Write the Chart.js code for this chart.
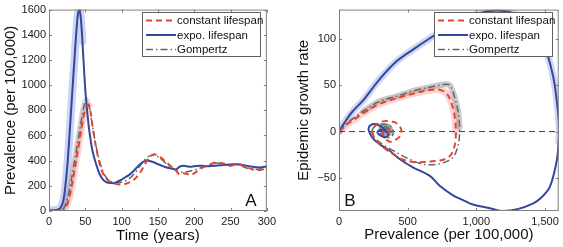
<!DOCTYPE html>
<html>
<head>
<meta charset="utf-8">
<script src="https://cdn.jsdelivr.net/npm/chart.js@4.4.0/dist/chart.umd.min.js"></script>
<style>
  html, body { margin: 0; padding: 0; background: #fff; }
  #wrap { position: relative; width: 563px; height: 247px; overflow: hidden; }
  #cA { position: absolute; left: 0; top: 0; }
  #cB { position: absolute; left: 280px; top: 0; }
</style>
</head>
<body>
<div id="wrap">
  <canvas id="cA" width="280" height="247"></canvas>
  <canvas id="cB" width="283" height="247"></canvas>
</div>
<script>
// ==================== DATOS PANEL A: prevalencia vs tiempo ====================
const years = [0, 10, 15, 18, 20, 22, 25, 28, 30, 32, 35, 38, 40, 42, 44, 46, 48, 50, 52, 55, 58, 60, 65, 70, 75, 80, 85, 90, 95, 100,
  105, 110, 115, 120, 125, 130, 135, 140, 145, 150, 155, 160, 165, 170, 175, 180, 185, 190, 195, 200, 205, 210, 220, 230, 240, 250, 260, 270, 280, 290, 300];
const expoA = [5, 8, 20, 50, 90, 170, 340, 580, 760, 940, 1200, 1450, 1570, 1600, 1520, 1350, 1150, 960, 830, 660, 540, 475, 370, 290, 245, 226, 222, 222, 235, 250,
  268, 285, 310, 340, 370, 392, 402, 395, 385, 372, 360, 350, 342, 335, 330, 352, 360, 355, 352, 356, 358, 360, 356, 360, 366, 370, 372, 362, 352, 346, 356];
const constA = [0, 0, 0, 2, 5, 15, 50, 110, 160, 220, 320, 420, 490, 560, 630, 700, 760, 805, 830, 840, 760, 670, 500, 370, 290, 250, 228, 218, 212, 210,
  215, 225, 240, 265, 300, 350, 400, 435, 450, 440, 420, 395, 370, 345, 320, 290, 300, 295, 285, 300, 320, 340, 365, 385, 378, 360, 372, 352, 332, 325, 340];
const gompA = [0, 0, 2, 8, 20, 40, 90, 160, 220, 290, 390, 490, 560, 630, 700, 770, 830, 870, 880, 840, 740, 670, 510, 390, 305, 258, 235, 228, 225, 228,
  238, 255, 280, 315, 355, 395, 425, 440, 445, 432, 410, 385, 360, 340, 325, 310, 308, 312, 318, 325, 335, 345, 362, 382, 372, 360, 366, 346, 330, 332, 345];
const xTicksA = [0, 50, 100, 150, 200, 250, 300];
const yTicksA = [0, 200, 400, 600, 800, 1000, 1200, 1400, 1600];

// ==================== DATOS PANEL B: tasa de crecimiento vs prevalencia ====================
const expoPrev = [0, 50, 100, 177, 298, 419, 541, 662, 783, 905, 1025, 1147, 1268, 1389, 1486, 1559, 1595, 1604, 1600, 1585, 1535, 1470, 1411, 1300,
  1193, 1100, 975, 900, 830, 735, 662, 541, 444, 371, 298, 250, 225, 215, 230, 270, 310, 340, 360, 345, 310, 280, 300, 330, 340];
const expoRate = [0, 12, 22, 34, 57, 76, 89, 101, 112, 121, 128, 131, 128, 117, 96, 60, 21, 0, -11, -32, -60, -72, -78, -84,
  -86, -83, -79, -74, -69, -59, -48, -39, -30, -21, -14, -8, -2, 3, 7, 8, 5, 1, -3, -6, -5, -1, 2, 1, 0];
const constPrev = [0, 60, 120, 177, 298, 419, 541, 662, 740, 790, 825, 845, 851, 848, 835, 810, 770, 700, 620, 540, 460, 400, 340, 298, 265, 247,
  250, 276, 320, 380, 420, 445, 455, 445, 410, 370, 340, 320, 330, 355, 365, 350, 330];
const constRate = [0, 8, 14, 20, 30, 36, 41, 45, 45, 40, 28, 14, 0, -10, -19, -26, -30, -32, -33, -33, -30, -25, -19, -14, -8, -3,
  3, 8, 11, 11, 9, 5, 0, -5, -9, -11, -8, -3, 2, 3, 0, -2, -1];
const gompPrev = [0, 60, 120, 177, 298, 419, 541, 662, 759, 807, 844, 868, 878, 875, 862, 835, 790, 730, 660, 600, 530, 460, 400, 340, 290, 255,
  240, 260, 300, 340, 380, 395, 385, 350, 315, 300, 315, 345, 365, 360, 340, 325, 330, 350, 355, 345, 335, 340];
const gompRate = [0, 9, 16, 22, 33, 38, 44, 48, 51, 50, 36, 21, 5, -8, -18, -27, -32, -35, -36, -35, -31, -26, -21, -16, -11, -6,
  0, 6, 8, 8, 5, 0, -5, -7, -5, -1, 4, 5, 3, -1, -3, -2, 1, 3, 1, -2, -1, 0];
const zeroLine = [0, 1600];
const xTicksB = [0, 500, 1000, 1500];
const yTicksB = [-50, 0, 50, 100];

const labels = ["constant lifespan", "expo. lifespan", "Gompertz"];
const colRed = '#e2452f', colBlue = '#34479c', colGray = '#5e6b64';
const FONT = '"Liberation Sans", Arial, Helvetica, sans-serif';

function pts(xs, ys) { return xs.map((x, i) => ({ x: x, y: ys[i] })); }

// ==================== PLUGIN: marco, ticks internos, leyenda, letra ====================
const marco = {
  id: 'marco',
  afterDatasetsDraw(chart, args, opts) {
    const ctx = chart.ctx, a = chart.chartArea, sx = chart.scales.x, sy = chart.scales.y;
    ctx.save();
    ctx.strokeStyle = '#808080';
    ctx.lineWidth = 1;
    ctx.strokeRect(a.left + 0.5, a.top + 0.5, a.right - a.left - 1, a.bottom - a.top - 1);
    ctx.beginPath();
    sx.ticks.forEach(t => {
      const p = Math.round(sx.getPixelForValue(t.value)) + 0.5;
      ctx.moveTo(p, a.bottom); ctx.lineTo(p, a.bottom - 3);
      ctx.moveTo(p, a.top); ctx.lineTo(p, a.top + 3);
    });
    sy.ticks.forEach(t => {
      const p = Math.round(sy.getPixelForValue(t.value)) + 0.5;
      ctx.moveTo(a.left, p); ctx.lineTo(a.left + 3, p);
      ctx.moveTo(a.right, p); ctx.lineTo(a.right - 3, p);
    });
    ctx.stroke();

    // letra del panel
    ctx.fillStyle = '#111';
    ctx.font = '17px ' + FONT;
    ctx.textAlign = 'center';
    ctx.textBaseline = 'middle';
    const lx = opts.letterSide === 'right' ? a.right - 16 : a.left + 11;
    ctx.fillText(opts.letter, lx, a.bottom - 10);

    // leyenda
    const bw = 118, bh = 44;
    const bx = Math.round(a.right - 7 - bw), by = Math.round(a.top + 2);
    ctx.fillStyle = '#fff';
    ctx.fillRect(bx, by, bw, bh);
    ctx.strokeStyle = '#606060';
    ctx.strokeRect(bx + 0.5, by + 0.5, bw, bh);
    const items = chart.data.datasets.filter(d => d.enLeyenda);
    items.forEach((d, i) => {
      const yy = by + 8.5 + i * 14.5;
      ctx.beginPath();
      ctx.strokeStyle = d.borderColor;
      ctx.lineWidth = d.borderWidth;
      ctx.setLineDash(d.borderDash || []);
      ctx.moveTo(bx + 4, yy);
      ctx.lineTo(bx + 34, yy);
      ctx.stroke();
      ctx.setLineDash([]);
      ctx.fillStyle = '#111';
      ctx.font = '11.5px ' + FONT;
      ctx.textAlign = 'left';
      ctx.fillText(d.label, bx + 35, yy + 0.5);
    });
    ctx.restore();
  }
};

function linea(label, data, color, width, dash, order) {
  return { label: label, data: data, borderColor: color, borderWidth: width, borderDash: dash,
    pointRadius: 0, fill: false, tension: 0.35, order: order, enLeyenda: true };
}
function banda(data, color, width) {
  return { label: '', data: data, borderColor: color, borderWidth: width, pointRadius: 0, fill: false,
    tension: 0.35, order: 10, borderCapStyle: 'round', borderJoinStyle: 'round' };
}

function escalas(xmin, xmax, xTicks, ymin, ymax, yTicks, xTitle, yTitle, yW, yTitlePad, xTitlePad) {
  const tickFont = { family: FONT, size: 11 };
  const titleFont = { family: FONT, size: 15, lineHeight: 1.2 };
  return {
    x: {
      type: 'linear', min: xmin, max: xmax,
      grid: { display: false, drawTicks: false, tickLength: 0 }, border: { display: false },
      ticks: { font: tickFont, color: '#1a1a1a', padding: 4, maxRotation: 0, autoSkip: false },
      afterBuildTicks: s => { s.ticks = xTicks.map(v => ({ value: v })); },
      afterFit: s => { s.height = 36; },
      title: { display: true, text: xTitle, font: titleFont, color: '#111', padding: { top: 0, bottom: xTitlePad } }
    },
    y: {
      type: 'linear', min: ymin, max: ymax,
      grid: { display: false, drawTicks: false, tickLength: 0 }, border: { display: false },
      ticks: { font: tickFont, color: '#1a1a1a', padding: 3, autoSkip: false,
        callback: v => String(v).replace('-', '\u2212') },
      afterBuildTicks: s => { s.ticks = yTicks.map(v => ({ value: v })); },
      afterFit: s => { s.width = yW; },
      title: { display: true, text: yTitle, font: titleFont, color: '#111', padding: { top: yTitlePad, bottom: 0 } }
    }
  };
}

// ==================== PANEL A ====================
const sliceA = (arr, lo, hi) => pts(years, arr).filter(p => p.x >= lo && p.x <= hi);
new Chart(document.getElementById('cA'), {
  type: 'line',
  data: {
    datasets: [
      linea(labels[0], pts(years, constA), colRed, 2, [6, 4], 1),
      linea(labels[1], pts(years, expoA), colBlue, 2, [], 2),
      linea(labels[2], pts(years, gompA), colGray, 1.5, [7, 3, 1.5, 3], 3),
      banda(sliceA(expoA, 0, 46), 'rgba(110,130,225,0.35)', 8),
      banda(sliceA(constA, 20, 56), 'rgba(240,120,120,0.3)', 7),
      banda(sliceA(gompA, 18, 54), 'rgba(150,150,150,0.35)', 6)
    ]
  },
  options: {
    responsive: false, animation: false,
    layout: { padding: { top: 7, right: 11, left: 0, bottom: 0 } },
    plugins: { legend: { display: false }, tooltip: { enabled: false }, marco: { letter: 'A', letterSide: 'right' } },
    scales: escalas(0, 300, xTicksA, 0, 1600, yTicksA, 'Time (years)', 'Prevalence (per 100,000)', 49, 2, 2)
  },
  plugins: [marco]
});

// ==================== PANEL B ====================
const sliceB = (xs, ys, lo, hi) => pts(xs, ys).slice(lo, hi);
new Chart(document.getElementById('cB'), {
  type: 'line',
  data: {
    datasets: [
      linea(labels[0], pts(constPrev, constRate), colRed, 2, [6, 4], 1),
      linea(labels[1], pts(expoPrev, expoRate), colBlue, 2, [], 2),
      linea(labels[2], pts(gompPrev, gompRate), colGray, 1.5, [7, 3, 1.5, 3], 3),
      { label: '', data: pts(zeroLine, [0, 0]), borderColor: '#444', borderWidth: 1, borderDash: [6, 4], pointRadius: 0, order: 5 },
      banda(sliceB(expoPrev, expoRate, 0, 19), 'rgba(100,120,220,0.3)', 7),
      banda(sliceB(constPrev, constRate, 0, 13), 'rgba(240,110,110,0.3)', 7),
      banda(sliceB(gompPrev, gompRate, 3, 13), 'rgba(140,140,140,0.45)', 6),
      banda(sliceB(gompPrev, gompRate, 36, 48), 'rgba(100,100,100,0.6)', 7)
    ]
  },
  options: {
    responsive: false, animation: false,
    layout: { padding: { top: 6, right: 4, left: 0, bottom: 0 } },
    plugins: { legend: { display: false }, tooltip: { enabled: false }, marco: { letter: 'B', letterSide: 'left' } },
    scales: escalas(0, 1600, xTicksB, -86, 132, yTicksB, 'Prevalence (per 100,000)', 'Epidemic growth rate', 59, 15, 3)
  },
  plugins: [marco]
});
</script>
</body>
</html>
